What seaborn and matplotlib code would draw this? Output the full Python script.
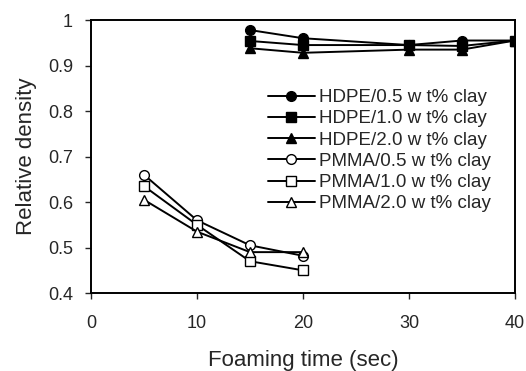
import matplotlib
matplotlib.use("Agg")
import matplotlib.pyplot as plt
import seaborn as sns
import pandas as pd

# foaming time (sec)
hdpe_time = [15, 20, 30, 35, 40]
pmma_time = [5, 10, 15, 20]

# relative density
hdpe_05 = [0.978, 0.960, 0.945, 0.955, 0.955]
hdpe_10 = [0.954, 0.945, 0.945, 0.943, 0.955]
hdpe_20 = [0.938, 0.928, 0.935, 0.935, 0.955]
pmma_05 = [0.660, 0.560, 0.505, 0.482]
pmma_10 = [0.635, 0.550, 0.470, 0.450]
pmma_20 = [0.605, 0.535, 0.490, 0.490]

labels = ["HDPE/0.5 w t% clay", "HDPE/1.0 w t% clay", "HDPE/2.0 w t% clay",
          "PMMA/0.5 w t% clay", "PMMA/1.0 w t% clay", "PMMA/2.0 w t% clay"]

sns.set_style("ticks")
plt.rcParams['font.family'] = ['Liberation Sans', 'DejaVu Sans']

fig = plt.figure(figsize=(5.26, 3.71), dpi=100)
ax = fig.add_axes([0.173, 0.21, 0.806, 0.736])

series = [(hdpe_time, hdpe_05, 'o', 'black'),
          (hdpe_time, hdpe_10, 's', 'black'),
          (hdpe_time, hdpe_20, '^', 'black'),
          (pmma_time, pmma_05, 'o', 'white'),
          (pmma_time, pmma_10, 's', 'white'),
          (pmma_time, pmma_20, '^', 'white')]

for (x, y, m, fc), lab in zip(series, labels):
    df = pd.DataFrame({'t': x, 'd': y})
    sns.lineplot(data=df, x='t', y='d', ax=ax, color='black', lw=1.4,
                 marker=m, markersize=7, markerfacecolor=fc,
                 markeredgecolor='black', markeredgewidth=1.0, label=lab)

ax.set_xlim(0, 40)
ax.set_ylim(0.4, 1.0)
ax.set_xticks([0, 10, 20, 30, 40])
ax.set_yticks([0.4, 0.5, 0.6, 0.7, 0.8, 0.9, 1.0])
ax.set_yticklabels(['0.4', '0.5', '0.6', '0.7', '0.8', '0.9', '1'])
ax.tick_params(labelsize=13, length=4, width=1, direction='out', pad=9)
ax.tick_params(axis='x', pad=12)
for s in ax.spines.values():
    s.set_linewidth(1.4)
    s.set_color('black')

ax.set_xlabel('Foaming time (sec)', fontsize=16, labelpad=12.5)
ax.set_ylabel('Relative density', fontsize=16, labelpad=8)

ax.legend(loc='upper left', bbox_to_anchor=(0.5095, 0.760),
          bbox_transform=fig.transFigure, frameon=False,
          fontsize=13.5, handlelength=2.5, labelspacing=0.22, handletextpad=0.2,
          borderpad=0, borderaxespad=0)

plt.savefig('out.png', dpi=100)
plt.close()
